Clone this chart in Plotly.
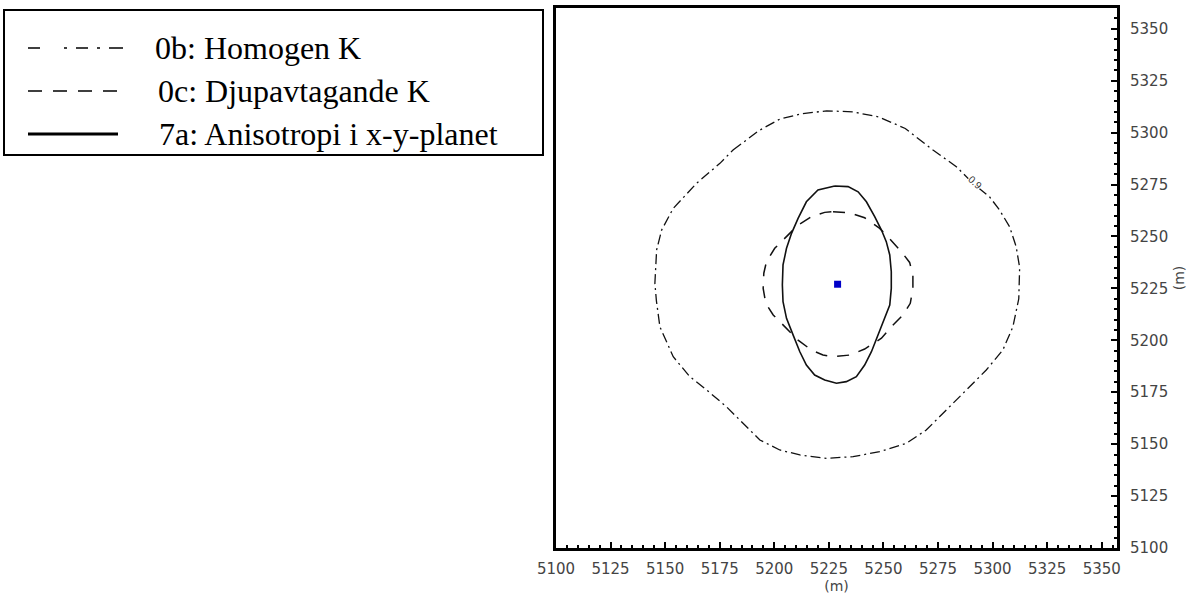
import plotly.graph_objects as go

# Contour 0b: homogeneous K (outer, dash-dot)
homogen_x = [5181.1, 5193.0, 5202.5, 5212.0, 5224.0, 5236.0, 5248.0, 5260.0, 5272.7, 5283.4,
             5291.0, 5298.6, 5303.2, 5307.8, 5310.8, 5312.4, 5312.0, 5309.3, 5304.7, 5297.1,
             5288.0, 5278.8, 5269.6, 5260.5, 5248.3, 5236.1, 5223.9, 5211.7, 5202.5, 5193.4,
             5185.7, 5178.1, 5169.0, 5161.3, 5153.7, 5147.6, 5146.0, 5145.3, 5146.1, 5148.4,
             5153.7, 5164.4, 5175.1, 5181.1]
homogen_y = [5291.6, 5301.0, 5306.5, 5309.0, 5310.5, 5310.0, 5307.5, 5302.0, 5291.6, 5283.6,
             5275.6, 5269.1, 5262.7, 5254.7, 5245.1, 5235.0, 5220.0, 5206.5, 5195.3, 5185.7,
             5176.1, 5166.4, 5156.8, 5150.4, 5146.4, 5144.0, 5143.2, 5144.8, 5147.2, 5152.0,
             5160.0, 5168.0, 5176.1, 5182.5, 5192.1, 5206.5, 5219.0, 5227.4, 5243.5, 5253.1,
             5263.5, 5275.6, 5285.2, 5291.6]

# Contour 0c: depth-decreasing K (dashed)
djup_x = [5226.9, 5234.6, 5241.4, 5248.3, 5252.9, 5258.2, 5262.0, 5263.5, 5263.5, 5262.3,
          5258.9, 5253.6, 5249.1, 5241.4, 5234.6, 5226.9, 5222.3, 5217.0, 5210.9, 5205.6,
          5199.5, 5196.1, 5194.9, 5195.2, 5196.4, 5200.2, 5204.8, 5210.9, 5217.0, 5223.1,
          5226.9]
djup_y = [5261.9, 5261.4, 5259.0, 5253.9, 5248.8, 5242.7, 5237.5, 5231.4, 5225.0, 5217.8,
          5212.2, 5206.5, 5201.0, 5195.8, 5192.9, 5192.1, 5192.9, 5195.3, 5200.1, 5205.8,
          5212.2, 5217.8, 5225.0, 5232.3, 5237.8, 5244.3, 5249.1, 5255.5, 5259.5, 5261.6,
          5261.9]

# Contour 7a: anisotropy in the x-y plane (solid)
aniso_x = [5227.7, 5233.8, 5238.4, 5242.2, 5246.0, 5249.1, 5251.3, 5252.9, 5253.6, 5253.6,
           5252.9, 5250.6, 5247.5, 5244.5, 5241.4, 5237.6, 5233.0, 5228.5, 5223.1, 5218.5,
           5214.7, 5211.7, 5208.6, 5205.6, 5204.0, 5203.7, 5204.0, 5205.6, 5207.9, 5210.9,
           5214.7, 5220.0, 5227.7]
aniso_y = [5274.3, 5274.0, 5271.5, 5266.7, 5259.5, 5253.1, 5247.5, 5241.1, 5233.0, 5225.0,
           5217.0, 5210.6, 5202.6, 5194.5, 5188.1, 5182.5, 5180.1, 5179.3, 5180.9, 5183.3,
           5188.1, 5194.5, 5202.6, 5210.6, 5218.6, 5226.6, 5236.3, 5244.3, 5251.5, 5258.7,
           5266.7, 5272.4, 5274.3]

# Well position
well_x = [5229.0]
well_y = [5227.0]

# Contour level label
level_text = "0.9"
level_pos = (5292.0, 5276.0)

legend_labels = ["0b: Homogen K", "0c: Djupavtagande K", "7a: Anisotropi i x-y-planet"]

x_range = [5100, 5357]
y_range = [5100, 5360]
tick_vals = [5100, 5125, 5150, 5175, 5200, 5225, 5250, 5275, 5300, 5325, 5350]

fig = go.Figure()
fig.add_trace(go.Scatter(x=homogen_x, y=homogen_y, mode="lines", name=legend_labels[0],
                         line=dict(color="#111111", width=1.3, dash="10px,4px,2px,4px")))
fig.add_trace(go.Scatter(x=djup_x, y=djup_y, mode="lines", name=legend_labels[1],
                         line=dict(color="#111111", width=1.5, dash="12px,10px")))
fig.add_trace(go.Scatter(x=aniso_x, y=aniso_y, mode="lines", name=legend_labels[2],
                         line=dict(color="#111111", width=1.6)))
fig.add_trace(go.Scatter(x=well_x, y=well_y, mode="markers", showlegend=False,
                         marker=dict(symbol="square", size=7, color="#0000c8")))

fig.add_annotation(x=level_pos[0], y=level_pos[1], text=level_text, showarrow=False,
                   textangle=42, font=dict(family="Liberation Sans", size=10, color="#333333"),
                   bgcolor="white", borderpad=0)

# Plot area spans pixels 556..1117 horizontally and 8..548 vertically
L, R, T, B = 556, 1117, 8, 548
W, H = 1196, 598


def px(x):
    return (x - L) / (R - L)


def py(y):
    return (B - y) / (B - T)


# Legend text box to the left of the plot
fig.add_shape(type="rect", xref="paper", yref="paper",
              x0=px(4), x1=px(543), y0=py(155), y1=py(10),
              line=dict(color="black", width=2), fillcolor="white")

row_y = [48, 91, 134]
fig.add_shape(type="line", xref="paper", yref="paper", x0=px(28), x1=px(124),
              y0=py(row_y[0]), y1=py(row_y[0]),
              line=dict(color="black", width=1.6,
                        dash="12px,24px,3px,9px,12px,9px,3px,9px,14px,40px"))
fig.add_shape(type="line", xref="paper", yref="paper", x0=px(28), x1=px(118),
              y0=py(row_y[1]), y1=py(row_y[1]),
              line=dict(color="black", width=1.6, dash="14px,11px"))
fig.add_shape(type="line", xref="paper", yref="paper", x0=px(28), x1=px(118),
              y0=py(row_y[2]), y1=py(row_y[2]),
              line=dict(color="black", width=3))

text_x = [153, 156, 157]
for lab, ry, tx in zip(legend_labels, row_y, text_x):
    fig.add_annotation(xref="paper", yref="paper", x=px(tx), y=py(ry), text=lab,
                       showarrow=False, xanchor="left", yanchor="middle",
                       font=dict(family="Liberation Serif", size=32, color="black"))

axis_font = dict(family="DejaVu Sans", size=15, color="#444444")
title_font = dict(family="DejaVu Sans", size=14, color="#444444")

fig.update_layout(
    width=W, height=H,
    margin=dict(l=L, r=W - R, t=T, b=H - B, autoexpand=False),
    paper_bgcolor="white", plot_bgcolor="white",
    showlegend=False,
    xaxis=dict(range=x_range, tickvals=tick_vals, ticks="inside", ticklen=6, tickwidth=2,
               tickcolor="black", showline=True, linecolor="black", linewidth=3, mirror=True,
               showgrid=False, zeroline=False, tickfont=axis_font, ticklabelstandoff=5,
               automargin=False,
               minor=dict(dtick=5, tick0=5100, ticks="inside", ticklen=3, tickwidth=1.5,
                          tickcolor="black", showgrid=False),
               title=dict(text="(m)", font=title_font, standoff=5)),
    yaxis=dict(range=y_range, tickvals=tick_vals, side="right", ticks="inside", ticklen=6,
               tickwidth=2, tickcolor="black", showline=True, linecolor="black", linewidth=3,
               mirror=True, showgrid=False, zeroline=False, tickfont=axis_font,
               ticklabelstandoff=7, automargin=False,
               minor=dict(dtick=5, tick0=5100, ticks="inside", ticklen=3, tickwidth=1.5,
                          tickcolor="black", showgrid=False),
               title=dict(text="(m)", font=title_font, standoff=8)),
)

fig.write_html("out.html")
